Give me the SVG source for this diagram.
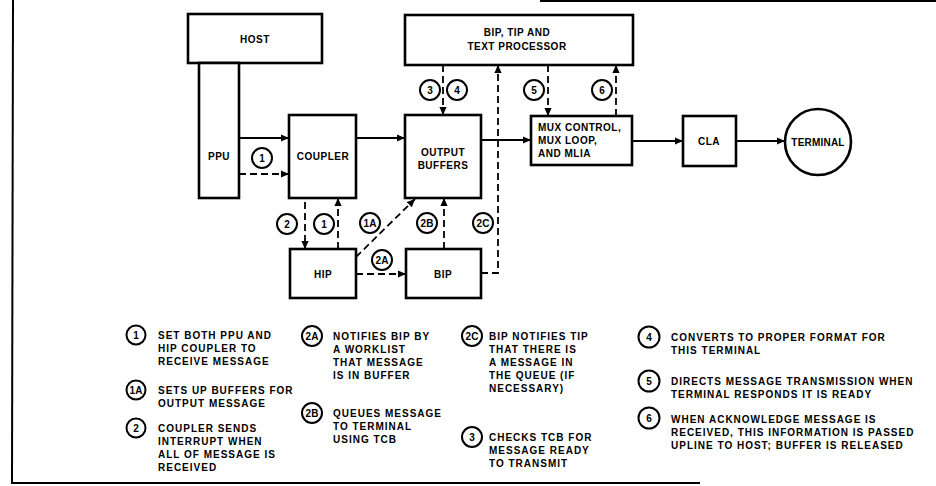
<svg xmlns="http://www.w3.org/2000/svg" width="936" height="486" viewBox="0 0 936 486">
<style>
.box{fill:#fff;stroke:#000;stroke-width:2.6}
.lbl{font-family:"Liberation Sans",Arial,sans-serif;font-weight:bold;font-size:10px;fill:#000;text-anchor:middle;letter-spacing:0.5px}
.ln{fill:none;stroke:#000;stroke-width:1.8}
.ds{fill:none;stroke:#000;stroke-width:1.8;stroke-dasharray:7 4}
.cir{fill:#fff;stroke:#000;stroke-width:2}
.cn{font-family:"Liberation Sans",Arial,sans-serif;font-weight:bold;font-size:10px;fill:#000;text-anchor:middle}
.lg{font-family:"Liberation Sans",Arial,sans-serif;font-weight:bold;font-size:10px;fill:#000;letter-spacing:1px}
.frame{fill:none;stroke:#000;stroke-width:2}
</style>
<defs>
<marker id="ah" viewBox="0 0 10 10" refX="10" refY="5" markerWidth="9" markerHeight="8" markerUnits="userSpaceOnUse" orient="auto"><path d="M0,0.5 L10,5 L0,9.5 z" fill="#000"/></marker>
</defs>
<rect width="936" height="486" fill="#fff"/>
<g id="frame">
<line class="frame" x1="13" y1="0" x2="12" y2="484"/>
<line class="frame" x1="12" y1="483" x2="700" y2="483"/>
<line class="frame" x1="540" y1="1" x2="936" y2="1"/>
</g>
<g id="connectors">
<line class="ln" x1="239" y1="138" x2="289" y2="138" marker-end="url(#ah)"/>
<line class="ln" x1="356" y1="138" x2="405" y2="138" marker-end="url(#ah)"/>
<line class="ln" x1="481" y1="140" x2="531" y2="140" marker-end="url(#ah)"/>
<line class="ln" x1="632" y1="141" x2="683" y2="141" marker-end="url(#ah)"/>
<line class="ln" x1="736" y1="141" x2="785" y2="141" marker-end="url(#ah)"/>
<path class="ds" d="M239,174 H289" marker-end="url(#ah)"/>
<path class="ds" d="M289,174 H305 V249" marker-end="url(#ah)"/>
<path class="ds" d="M338,249 V198" marker-end="url(#ah)"/>
<path class="ds" d="M356,257 L415,199" marker-end="url(#ah)"/>
<path class="ds" d="M356,274 H406" marker-end="url(#ah)"/>
<path class="ds" d="M444,249 V198" marker-end="url(#ah)"/>
<path class="ds" d="M481,273 H498 V65" marker-end="url(#ah)"/>
<path class="ds" d="M443,65 V115" marker-end="url(#ah)"/>
<path class="ds" d="M548,65 V116" marker-end="url(#ah)"/>
<path class="ds" d="M616,116 V65" marker-end="url(#ah)"/>
</g>
<g id="host"><rect class="box" x="188" y="14" width="134" height="49"/><text class="lbl" x="255" y="43">HOST</text></g>
<g id="ppu"><rect class="box" x="199" y="63" width="40" height="135"/><text class="lbl" x="219" y="160">PPU</text></g>
<g id="coupler"><rect class="box" x="289" y="115" width="67" height="83"/><text class="lbl" x="323" y="160">COUPLER</text></g>
<g id="output-buffers"><rect class="box" x="405" y="115" width="76" height="83"/><text class="lbl" x="443" y="156">OUTPUT</text><text class="lbl" x="443" y="169">BUFFERS</text></g>
<g id="bip-tip"><rect class="box" x="405" y="15" width="228" height="50"/><text class="lbl" x="517" y="36">BIP, TIP AND</text><text class="lbl" x="517" y="50">TEXT PROCESSOR</text></g>
<g id="mux"><rect class="box" x="531" y="116" width="101" height="49"/><text class="lbl" x="538" y="131" style="text-anchor:start">MUX CONTROL,</text><text class="lbl" x="538" y="144" style="text-anchor:start">MUX LOOP,</text><text class="lbl" x="538" y="157" style="text-anchor:start">AND MLIA</text></g>
<g id="cla"><rect class="box" x="683" y="116" width="53" height="50"/><text class="lbl" x="709" y="145">CLA</text></g>
<g id="terminal"><circle class="box" cx="818" cy="142" r="33"/><text class="lbl" x="818" y="146" style="letter-spacing:0.2px">TERMINAL</text></g>
<g id="hip"><rect class="box" x="290" y="249" width="66" height="49"/><text class="lbl" x="323" y="278">HIP</text></g>
<g id="bip"><rect class="box" x="406" y="249" width="75" height="49"/><text class="lbl" x="443" y="278">BIP</text></g>
<g id="step-labels">
<circle class="cir" cx="262" cy="158" r="10"/><text class="cn" x="262" y="161.5">1</text>
<circle class="cir" cx="287" cy="224" r="10"/><text class="cn" x="287" y="227.5">2</text>
<circle class="cir" cx="324" cy="224" r="10"/><text class="cn" x="324" y="227.5">1</text>
<circle class="cir" cx="370" cy="223" r="10"/><text class="cn" x="370" y="226.5">1A</text>
<circle class="cir" cx="382" cy="260" r="10"/><text class="cn" x="382" y="263.5">2A</text>
<circle class="cir" cx="427" cy="223" r="10"/><text class="cn" x="427" y="226.5">2B</text>
<circle class="cir" cx="483" cy="223" r="10"/><text class="cn" x="483" y="226.5">2C</text>
<circle class="cir" cx="430" cy="90" r="10"/><text class="cn" x="430" y="93.5">3</text>
<circle class="cir" cx="457" cy="90" r="10"/><text class="cn" x="457" y="93.5">4</text>
<circle class="cir" cx="534" cy="90" r="10"/><text class="cn" x="534" y="93.5">5</text>
<circle class="cir" cx="602" cy="90" r="10"/><text class="cn" x="602" y="93.5">6</text>
</g>
<g id="legend">
<circle class="cir" cx="136" cy="335" r="9.5"/><text class="cn" x="136" y="338.5">1</text>
<text class="lg" x="158" y="339">SET BOTH PPU AND</text>
<text class="lg" x="158" y="352">HIP COUPLER TO</text>
<text class="lg" x="158" y="365">RECEIVE MESSAGE</text>
<circle class="cir" cx="136" cy="390" r="9.5"/><text class="cn" x="136" y="393.5">1A</text>
<text class="lg" x="158" y="394">SETS UP BUFFERS FOR</text>
<text class="lg" x="158" y="407">OUTPUT MESSAGE</text>
<circle class="cir" cx="136" cy="428" r="9.5"/><text class="cn" x="136" y="431.5">2</text>
<text class="lg" x="158" y="432">COUPLER SENDS</text>
<text class="lg" x="158" y="445">INTERRUPT WHEN</text>
<text class="lg" x="158" y="458">ALL OF MESSAGE IS</text>
<text class="lg" x="158" y="471">RECEIVED</text>
<circle class="cir" cx="312" cy="336" r="10"/><text class="cn" x="312" y="339.5">2A</text>
<text class="lg" x="333" y="340">NOTIFIES BIP BY</text>
<text class="lg" x="333" y="353">A WORKLIST</text>
<text class="lg" x="333" y="366">THAT MESSAGE</text>
<text class="lg" x="333" y="379">IS IN BUFFER</text>
<circle class="cir" cx="312" cy="413" r="10"/><text class="cn" x="312" y="416.5">2B</text>
<text class="lg" x="333" y="417">QUEUES MESSAGE</text>
<text class="lg" x="333" y="430">TO TERMINAL</text>
<text class="lg" x="333" y="443">USING TCB</text>
<circle class="cir" cx="472" cy="336" r="10"/><text class="cn" x="472" y="339.5">2C</text>
<text class="lg" x="489" y="340">BIP NOTIFIES TIP</text>
<text class="lg" x="489" y="353">THAT THERE IS</text>
<text class="lg" x="489" y="366">A MESSAGE IN</text>
<text class="lg" x="489" y="379">THE QUEUE (IF</text>
<text class="lg" x="489" y="392">NECESSARY)</text>
<circle class="cir" cx="472" cy="437" r="10"/><text class="cn" x="472" y="440.5">3</text>
<text class="lg" x="489" y="441">CHECKS TCB FOR</text>
<text class="lg" x="489" y="454">MESSAGE READY</text>
<text class="lg" x="489" y="467">TO TRANSMIT</text>
<circle class="cir" cx="649" cy="337" r="10.5"/><text class="cn" x="649" y="340.5">4</text>
<text class="lg" x="671" y="341">CONVERTS TO PROPER FORMAT FOR</text>
<text class="lg" x="671" y="354">THIS TERMINAL</text>
<circle class="cir" cx="649" cy="381" r="10.5"/><text class="cn" x="649" y="384.5">5</text>
<text class="lg" x="671" y="385">DIRECTS MESSAGE TRANSMISSION WHEN</text>
<text class="lg" x="671" y="398">TERMINAL RESPONDS IT IS READY</text>
<circle class="cir" cx="649" cy="418" r="10.5"/><text class="cn" x="649" y="421.5">6</text>
<text class="lg" x="671" y="423">WHEN ACKNOWLEDGE MESSAGE IS</text>
<text class="lg" x="671" y="436">RECEIVED, THIS INFORMATION IS PASSED</text>
<text class="lg" x="671" y="449">UPLINE TO HOST; BUFFER IS RELEASED</text>
</g>
</svg>
